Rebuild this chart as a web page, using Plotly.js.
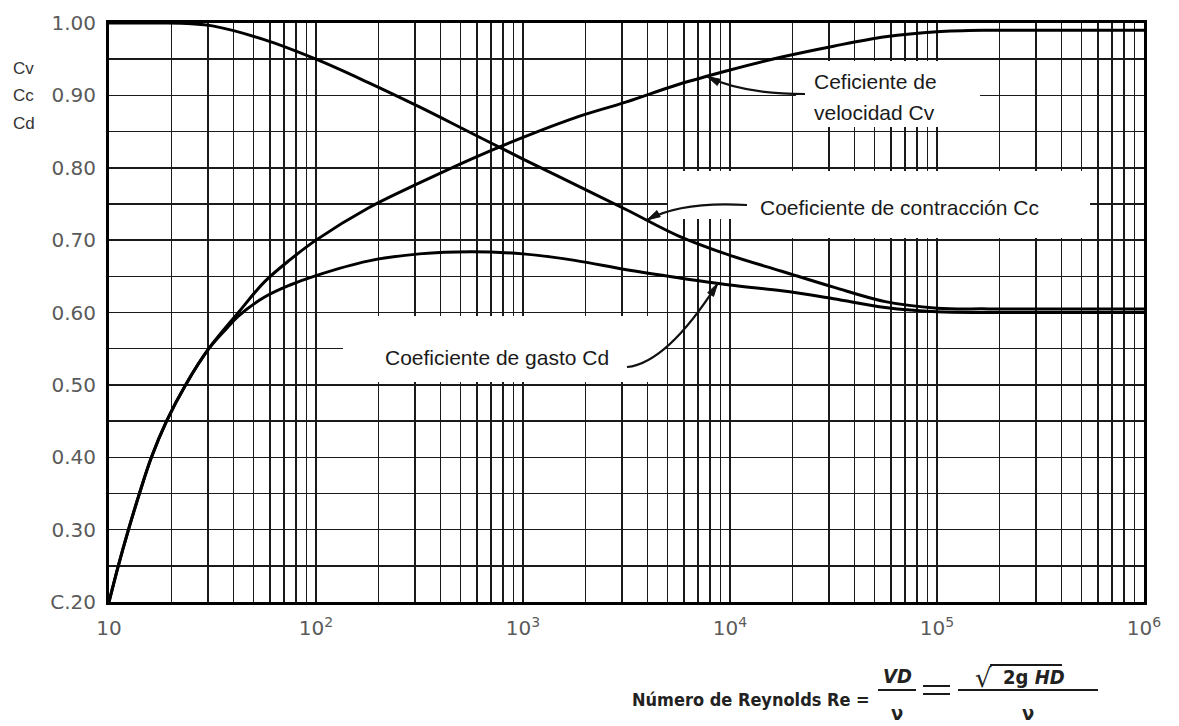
<!DOCTYPE html>
<html>
<head>
<meta charset="utf-8">
<script src="https://cdn.plot.ly/plotly-3.0.1.min.js"></script>
<style>body{margin:0;background:#fff}#chart{width:1179px;height:726px}</style>
</head>
<body>
<div id="chart"></div>
<script>
// ---- data ----
const re_cv = [10, 11.09, 12.42, 14.03, 16.03, 18.97, 23.44, 30.34, 42.17, 56.2, 75, 100, 178, 316, 562, 1000, 1778, 3162, 5623, 10000, 17783, 31623, 56234, 100000, 177828, 316228, 1000000];
const cv    = [0.20, 0.25, 0.30, 0.35, 0.40, 0.45, 0.50, 0.55, 0.60, 0.642, 0.673, 0.700, 0.744, 0.779, 0.812, 0.842, 0.869, 0.891, 0.915, 0.935, 0.953, 0.968, 0.981, 0.988, 0.990, 0.990, 0.990];

const re_cc = [10, 17.8, 25, 31.6, 56.2, 100, 178, 316, 562, 1000, 1778, 3162, 5623, 10000, 17783, 31623, 56234, 100000, 177828, 1000000];
const cc    = [1.00, 1.00, 0.999, 0.996, 0.977, 0.950, 0.918, 0.884, 0.848, 0.812, 0.777, 0.742, 0.706, 0.679, 0.657, 0.635, 0.615, 0.606, 0.605, 0.605];

const re_cd = [10, 11.09, 12.42, 14.03, 16.03, 18.97, 23.44, 30.34, 37, 42.17, 56.2, 75, 100, 178, 316, 562, 1000, 1778, 3162, 5623, 10000, 17783, 31623, 56234, 100000, 177828, 1000000];
const cd    = [0.20, 0.25, 0.30, 0.35, 0.40, 0.45, 0.50, 0.55, 0.578, 0.595, 0.621, 0.638, 0.651, 0.671, 0.681, 0.684, 0.681, 0.672, 0.659, 0.648, 0.638, 0.630, 0.619, 0.607, 0.601, 0.600, 0.600];

// axis ticks: decades labelled, 2..9 multiples as minor grid lines
const x_ticks = [10, 100, 1000, 10000, 100000, 1000000];
const x_tick_labels = ['10', '10<sup>2</sup>', '10<sup>3</sup>', '10<sup>4</sup>', '10<sup>5</sup>', '10<sup>6</sup>'];
const x_minor = [20,30,40,50,60,70,80,90,
  200,300,400,500,600,700,800,900,
  2000,3000,4000,5000,6000,7000,8000,9000,
  20000,30000,40000,50000,60000,70000,80000,90000,
  200000,300000,400000,500000,600000,700000,800000,900000];
const y_ticks = [0.20, 0.30, 0.40, 0.50, 0.60, 0.70, 0.80, 0.90, 1.00];
const y_tick_labels = ['C.20', '0.30', '0.40', '0.50', '0.60', '0.70', '0.80', '0.90', '1.00'];
const y_minor = [0.25, 0.35, 0.45, 0.55, 0.65, 0.75, 0.85, 0.95];

// labels and arrow targets (points on the curves)
const label_cv = ['Ceficiente de', 'velocidad Cv'];
const label_cc = 'Coeficiente de contracción Cc';
const label_cd = 'Coeficiente de gasto Cd';
const arrow_re = [7760, 3980, 8710];
const arrow_c  = [0.926, 0.728, 0.640];

// ---- geometry helpers ----
const W = 1179, H = 726;
const PL = 109, PR = 1144, PT = 23, PB = 602;
const fx = p => (p - PL) / (PR - PL);
const fy = p => (PB - p) / (PB - PT);
const dxp = v => PL + (Math.log10(v) - 1) / 5 * (PR - PL);
const dyp = v => PB - (v - 0.2) / 0.8 * (PB - PT);

const lineStyle = {color: '#000', width: 3, shape: 'spline', smoothing: 1};
const traces = [
  {x: re_cv, y: cv, mode: 'lines', line: lineStyle, hoverinfo: 'skip', name: 'Cv'},
  {x: re_cc, y: cc, mode: 'lines', line: lineStyle, hoverinfo: 'skip', name: 'Cc'},
  {x: re_cd, y: cd, mode: 'lines', line: lineStyle, hoverinfo: 'skip', name: 'Cd'}
];

const tickFont = {family: 'DejaVu Sans, sans-serif', size: 20, color: '#5a5a5a'};
const labFont = {family: 'Liberation Sans, Arial, sans-serif', size: 21, color: '#1a1a1a'};

function box(x0, y0, x1, y1) {
  return {type: 'rect', xref: 'paper', yref: 'paper', layer: 'above',
    x0: fx(x0), x1: fx(x1), y0: fy(y1), y1: fy(y0),
    fillcolor: '#fff', line: {width: 0}};
}
function pline(x0, y0, x1, y1, w) {
  return {type: 'line', xref: 'paper', yref: 'paper', layer: 'above',
    x0: fx(x0), x1: fx(x1), y0: fy(y0), y1: fy(y1), line: {color: '#1a1a1a', width: w || 2}};
}
function curveArrow(a, i) {
  const [tx, ty, cx, cy] = a;
  const hx = dxp(arrow_re[i]), hy = dyp(arrow_c[i]);
  return {type: 'path', xref: 'paper', yref: 'paper', layer: 'above',
    path: `M ${fx(tx)},${fy(ty)} Q ${fx(cx)},${fy(cy)} ${fx(hx)},${fy(hy)}`,
    line: {color: '#111', width: 2.2}};
}
function headShape(a, i) {
  const cx = a[2], cy = a[3];
  const hx = dxp(arrow_re[i]), hy = dyp(arrow_c[i]);
  const n = Math.hypot(cx - hx, cy - hy);
  const ux = (cx - hx) / n, uy = (cy - hy) / n;
  const bx = hx + ux * 13, by = hy + uy * 13;
  const px = -uy * 3.5, py = ux * 3.5;
  return {type: 'path', xref: 'paper', yref: 'paper', layer: 'above',
    path: `M ${fx(hx)},${fy(hy)} L ${fx(bx + px)},${fy(by + py)} L ${fx(bx - px)},${fy(by - py)} Z`,
    fillcolor: '#111', line: {color: '#111', width: 1}};
}
function txt(text, x, y, font, anchor) {
  return {xref: 'paper', yref: 'paper', x: fx(x), y: fy(y), text: text, showarrow: false,
    xanchor: anchor || 'left', yanchor: 'middle', font: font};
}

// arrow: tail (label end) and curve control point, in pixels
const arrows = [[805, 94, 742, 94], [747, 205, 682, 201], [627, 367, 667, 363]];

const shapes = [
  box(796, 61, 980, 127),
  box(735, 171, 1090, 238),
  box(668, 171, 735, 219),
  box(343, 316, 665, 382),
  ...arrows.map((a, i) => curveArrow(a, i)),
  ...arrows.map((a, i) => headShape(a, i)),
  // formula: fraction bars, long equals, radical bar
  pline(878, 690, 916, 690, 2),
  pline(923, 686, 950, 686, 2),
  pline(923, 694, 950, 694, 2),
  pline(958, 690, 1098, 690, 2),
  pline(990, 665, 1062, 665, 1.8)
];

const fFont = {family: 'DejaVu Sans Condensed, Liberation Sans, Arial, sans-serif', size: 18, color: '#222', weight: 'bold'};
const fracFont = {family: 'DejaVu Sans Condensed, Liberation Sans, Arial, sans-serif', size: 20, color: '#222', weight: 'bold'};
const annotations = [
  txt(label_cv[0], 812, 82, labFont),
  txt(label_cv[1], 812, 112, labFont),
  txt(label_cc, 758, 207, labFont),
  txt(label_cd, 383, 357, labFont),
  txt('Cv', 11, 68, {family: 'Liberation Sans, Arial, sans-serif', size: 17, color: '#333'}),
  txt('Cc', 11, 96, {family: 'Liberation Sans, Arial, sans-serif', size: 17, color: '#333'}),
  txt('Cd', 11, 123, {family: 'Liberation Sans, Arial, sans-serif', size: 17, color: '#333'}),
  txt('Número de Reynolds Re =', 630, 699, fFont),
  txt('<i>VD</i>', 897, 676, fracFont, 'center'),
  txt('ν', 897, 713, fracFont, 'center'),
  txt('√', 983, 678, {family: 'DejaVu Sans, sans-serif', size: 26, color: '#222'}, 'center'),
  txt('2g&nbsp;<i>HD</i>', 1034, 677, fracFont, 'center'),
  txt('ν', 1028, 713, fracFont, 'center')
];

const gridStyle = {showgrid: true, gridcolor: '#1a1a1a', gridwidth: 1.5};
const axisCommon = Object.assign({
  zeroline: false, showline: true, mirror: true, linecolor: '#000', linewidth: 3,
  ticks: '', tickmode: 'array', tickfont: tickFont, fixedrange: true, ticklabelstandoff: 6
}, gridStyle);

const layout = {
  width: W, height: H,
  margin: {l: PL, r: W - PR, t: PT, b: H - PB},
  paper_bgcolor: '#fff', plot_bgcolor: '#fff',
  showlegend: false,
  xaxis: Object.assign({}, axisCommon, {type: 'log', range: [1, 6], tickvals: x_ticks, ticktext: x_tick_labels,
    minor: Object.assign({tickmode: 'array', tickvals: x_minor, ticks: ''}, gridStyle)}),
  yaxis: Object.assign({}, axisCommon, {range: [0.2, 1.0], tickvals: y_ticks, ticktext: y_tick_labels,
    minor: Object.assign({tickmode: 'array', tickvals: y_minor, ticks: ''}, gridStyle)}),
  shapes: shapes,
  annotations: annotations
};

Plotly.newPlot('chart', traces, layout, {staticPlot: true, displayModeBar: false});
</script>
</body>
</html>
